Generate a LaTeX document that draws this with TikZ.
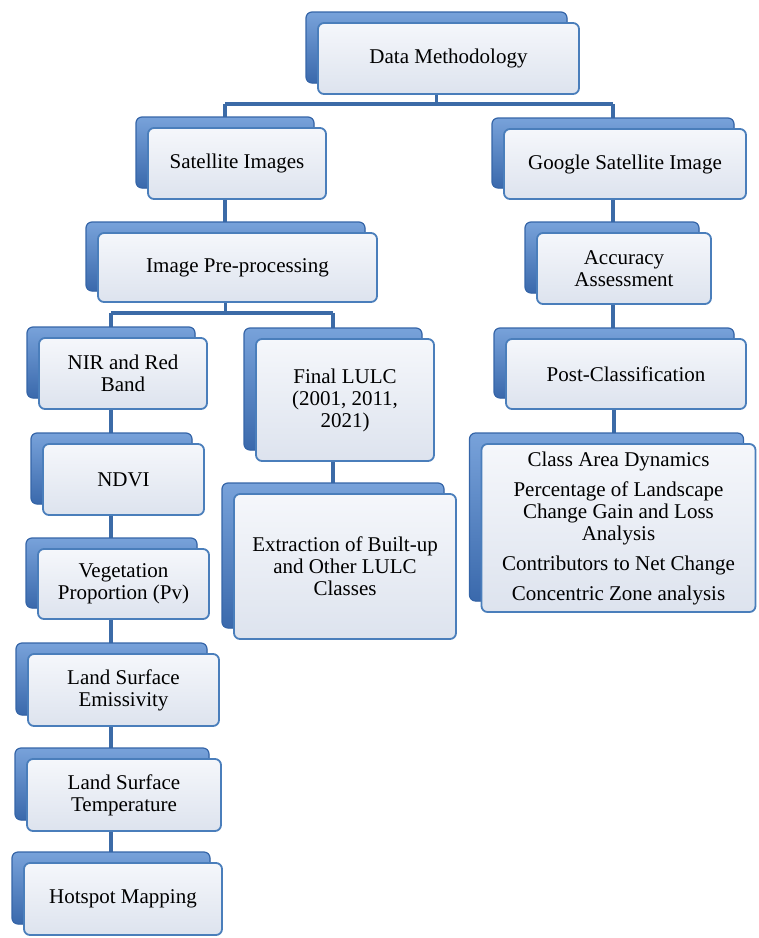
\documentclass[tikz,border=0pt]{standalone}
\usepackage{fontspec}
\setmainfont{Liberation Serif}
\usetikzlibrary{shadows,backgrounds}
\definecolor{bk1}{HTML}{78A2DA}
\definecolor{bk2}{HTML}{3A69AC}
\definecolor{bkline}{HTML}{3565A8}
\definecolor{edgeblue}{HTML}{4A7EBB}
\definecolor{ftop}{HTML}{F5F7FB}
\definecolor{fbot}{HTML}{DDE3EE}
\definecolor{conn}{HTML}{3C6BA7}
\tikzset{
  fbox/.style={draw=edgeblue, line width=1.8pt, rounded corners=6pt,
    top color=ftop, bottom color=fbot, align=center, inner sep=2pt,
    font=\fontsize{21}{22}\selectfont,
    copy shadow={shadow xshift=-12pt, shadow yshift=11pt, top color=bk1,
      bottom color=bk2, draw=bkline, line width=1.2pt}},
  link/.style={draw=conn, line width=3.5pt}
}
\begin{document}
\begin{tikzpicture}[x=1pt,y=-1pt]
\useasboundingbox (0,0) rectangle (759,938);
\node[fbox, minimum width=261pt, minimum height=71pt] (dm) at (448.5,58.5) {Data Methodology};
\node[fbox, minimum width=178pt, minimum height=71pt] (sat) at (237,163.5) {Satellite Images};
\node[fbox, minimum width=279pt, minimum height=69pt] (pre) at (237.5,267.5) {Image Pre-processing};
\node[fbox, minimum width=168pt, minimum height=71pt] (nir) at (123,373.5) {NIR and Red\\Band};
\node[fbox, minimum width=161pt, minimum height=71pt] (ndvi) at (123.5,479.5) {NDVI};
\node[fbox, minimum width=171pt, minimum height=70pt] (veg) at (123.5,584) {Vegetation\\Proportion (Pv)};
\node[fbox, minimum width=191pt, minimum height=72pt] (lse) at (123.5,690) {Land Surface\\Emissivity};
\node[fbox, minimum width=194pt, minimum height=72pt] (lst) at (124,795) {Land Surface\\Temperature};
\node[fbox, minimum width=198pt, minimum height=72pt] (hot) at (123,899) {Hotspot Mapping};
\node[fbox, minimum width=178pt, minimum height=122pt] (fin) at (345,400) {Final LULC\\(2001, 2011,\\2021)};
\node[fbox, minimum width=222pt, minimum height=145pt] (ext) at (345,566.5) {Extraction of Built-up\\and Other LULC\\Classes};
\node[fbox, minimum width=242pt, minimum height=70pt] (goo) at (625,164) {Google Satellite Image};
\node[fbox, minimum width=174pt, minimum height=71pt] (acc) at (624,268.5) {Accuracy\\Assessment};
\node[fbox, minimum width=240pt, minimum height=70pt] (post) at (626,374) {Post-Classification};
\node[fbox, minimum width=274pt, minimum height=168pt] (cls) at (618.5,528) {Class Area Dynamics\\[8pt]Percentage of Landscape\\Change Gain and Loss\\Analysis\\[8pt]Contributors to Net Change\\[8pt]Concentric Zone analysis};
\begin{scope}[on background layer]
\coordinate (h1) at (0,104);
\coordinate (h2) at (0,313);
\draw[link] ([xshift=-12pt]dm.south) -- ([xshift=-12pt]dm.south |- h1);
\draw[link] ([xshift=-12pt]sat.north |- h1) -- ([xshift=-12pt]goo.north |- h1);
\draw[link] ([xshift=-12pt]sat.north |- h1) -- ([xshift=-12pt]sat.north);
\draw[link] ([xshift=-12pt]goo.north |- h1) -- ([xshift=-12pt]goo.north);
\draw[link] ([xshift=-12pt]sat.south) -- ([xshift=-12pt]sat.south |- pre.north);
\draw[link] ([xshift=-12pt]pre.south) -- ([xshift=-12pt]pre.south |- h2);
\draw[link] ([xshift=-12pt]nir.north |- h2) -- ([xshift=-12pt]fin.north |- h2);
\draw[link] ([xshift=-12pt]nir.north |- h2) -- ([xshift=-12pt]nir.north);
\draw[link] ([xshift=-12pt]fin.north |- h2) -- ([xshift=-12pt]fin.north);
\draw[link] ([xshift=-12pt]nir.south) -- ([xshift=-12pt]nir.south |- hot.north);
\draw[link] ([xshift=-12pt]fin.south) -- ([xshift=-12pt]fin.south |- ext.north);
\draw[link] ([xshift=-12pt]goo.south) -- ([xshift=-12pt]goo.south |- post.north);
\draw[link] ([xshift=-12pt]post.south) -- ([xshift=-12pt]post.south |- cls.north);
\end{scope}
\end{tikzpicture}
\end{document}
